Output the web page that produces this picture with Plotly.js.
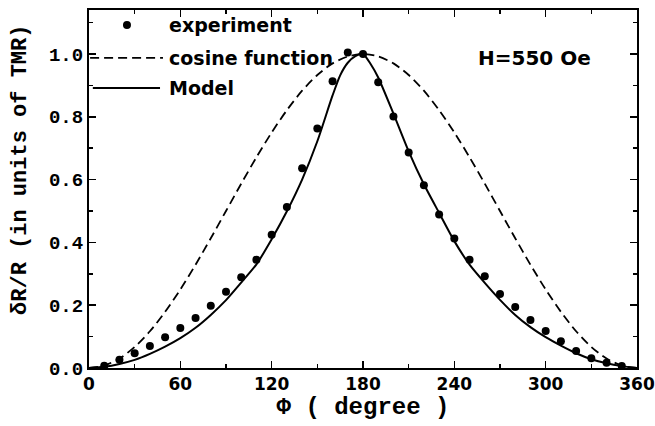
<!DOCTYPE html>
<html><head><meta charset="utf-8">
<script src="https://cdn.plot.ly/plotly-3.0.1.min.js"></script>
<style>html,body{margin:0;padding:0;background:#fff}</style>
</head><body><div id="chart" style="width:655px;height:426px"></div>
<script>
// ---- data ----
const expAngle = [10,20,30,40,50,60,70,80,90,100,110,120,130,140,150,160,170,180,190,200,210,220,230,240,250,260,270,280,290,300,310,320,330,340,350];
const expValue = [0.007,0.026,0.047,0.070,0.098,0.127,0.159,0.198,0.243,0.289,0.345,0.424,0.513,0.636,0.763,0.913,1.005,1.000,0.910,0.801,0.686,0.582,0.489,0.412,0.345,0.292,0.236,0.194,0.153,0.118,0.085,0.054,0.031,0.017,0.006];

const cosAngle = [0,10,20,30,40,50,60,70,80,90,100,110,120,130,140,150,160,170,180,190,200,210,220,230,240,250,260,270,280,290,300,310,320,330,340,350,360];
const cosValue = [0.000,0.008,0.030,0.067,0.117,0.179,0.250,0.329,0.413,0.500,0.587,0.671,0.750,0.821,0.883,0.933,0.970,0.992,1.000,0.992,0.970,0.933,0.883,0.821,0.750,0.671,0.587,0.500,0.413,0.329,0.250,0.179,0.117,0.067,0.030,0.008,0.000];

const modelAngle = [0,10,20,30,40,50,60,70,80,90,100,110,120,130,140,150,160,165,170,175,180,185,190,200,210,220,230,240,250,260,270,280,290,300,310,320,330,340,350,360];
const modelValue = [0.000,0.004,0.013,0.026,0.045,0.068,0.095,0.128,0.169,0.216,0.272,0.330,0.410,0.499,0.600,0.722,0.868,0.932,0.972,0.993,1.000,0.968,0.925,0.810,0.690,0.585,0.494,0.404,0.329,0.271,0.217,0.169,0.130,0.098,0.071,0.047,0.028,0.015,0.006,0.000];

const xTickVals = [0,60,120,180,240,300,360];
const yTickVals = [0.0,0.2,0.4,0.6,0.8,1.0];
const seriesNames = ['experiment','cosine function','Model'];
const fieldLabel = 'H=550 Oe';
const xTitle = 'Φ ( degree )';
const yTitle = 'δR/R (in units of TMR)';

// ---- styling ----
const mono = 'Liberation Mono, Courier New, monospace';
const sans = 'DejaVu Sans, Verdana, sans-serif';
const DASH = '9px,5px';

const traces = [
  {x: cosAngle, y: cosValue, name: seriesNames[1], mode: 'lines',
   line: {color: '#000', width: 1.8, dash: DASH, shape: 'spline', smoothing: 0.8}},
  {x: modelAngle, y: modelValue, name: seriesNames[2], mode: 'lines',
   line: {color: '#000', width: 2, shape: 'spline', smoothing: 0.6}},
  {x: expAngle, y: expValue, name: seriesNames[0], mode: 'markers',
   marker: {color: '#000', size: 8}}
];

const axisCommon = {
  showline: true, linewidth: 2, linecolor: '#000', mirror: 'allticks',
  ticks: 'inside', ticklen: 7, tickwidth: 1.5, tickcolor: '#000',
  showgrid: false, zeroline: false
};

// legend rows (paper coords)
const rowY = [0.958, 0.866, 0.782];
const textX = 0.1423;

const layout = {
  width: 655, height: 426,
  margin: {l: 89, r: 18, t: 10, b: 58},
  paper_bgcolor: '#fff', plot_bgcolor: '#fff',
  showlegend: false,
  xaxis: Object.assign({}, axisCommon, {
    range: [0, 360], tickvals: xTickVals, ticktext: xTickVals.map(String),
    minor: {dtick: 30, tick0: 0, ticks: 'inside', ticklen: 4, tickcolor: '#000', tickwidth: 1.5},
    tickfont: {family: sans, size: 17, color: '#000', weight: 'bold'},
    title: {text: xTitle, font: {family: mono, size: 24, color: '#000', weight: 'bold'}, standoff: 4}
  }),
  yaxis: Object.assign({}, axisCommon, {
    range: [0, 1.14], tickvals: yTickVals, ticktext: yTickVals.map(v => v.toFixed(1)),
    minor: {dtick: 0.1, tick0: 0, ticks: 'inside', ticklen: 4, tickcolor: '#000', tickwidth: 1.5},
    tickfont: {family: mono, size: 19, color: '#000', weight: 'bold'}
  }),
  shapes: [
    {type: 'circle', xref: 'paper', yref: 'paper', xsizemode: 'pixel', ysizemode: 'pixel',
     xanchor: 0.0693, yanchor: rowY[0], x0: -4, x1: 4, y0: -4, y1: 4,
     fillcolor: '#000', line: {width: 0}},
    {type: 'line', xref: 'paper', yref: 'paper', x0: 0.002, x1: 0.135, y0: rowY[1], y1: rowY[1],
     line: {color: '#000', width: 1.8, dash: DASH}},
    {type: 'line', xref: 'paper', yref: 'paper', x0: 0.007, x1: 0.1296, y0: rowY[2], y1: rowY[2],
     line: {color: '#000', width: 2}}
  ],
  annotations: [
    {text: seriesNames[0], xref: 'paper', yref: 'paper', x: textX, y: rowY[0], xanchor: 'left', yanchor: 'middle', showarrow: false,
     font: {family: sans, size: 19, color: '#000', weight: 'bold'}},
    {text: seriesNames[1], xref: 'paper', yref: 'paper', x: textX, y: rowY[1], xanchor: 'left', yanchor: 'middle', showarrow: false,
     font: {family: sans, size: 19, color: '#000', weight: 'bold'}},
    {text: seriesNames[2], xref: 'paper', yref: 'paper', x: textX, y: rowY[2], xanchor: 'left', yanchor: 'middle', showarrow: false,
     font: {family: sans, size: 19, color: '#000', weight: 'bold'}},
    {text: fieldLabel, xref: 'paper', yref: 'paper', x: 0.9197, y: 0.866, xanchor: 'right', yanchor: 'middle', showarrow: false,
     font: {family: sans, size: 20, color: '#000', weight: 'bold'}},
    {text: yTitle, xref: 'paper', yref: 'paper', x: -0.126, y: 0.553, xanchor: 'center', yanchor: 'middle', textangle: -90, showarrow: false,
     font: {family: mono, size: 22, color: '#000', weight: 'bold'}}
  ]
};

Plotly.newPlot('chart', traces, layout, {displayModeBar: false, staticPlot: true});
</script>
</body></html>
